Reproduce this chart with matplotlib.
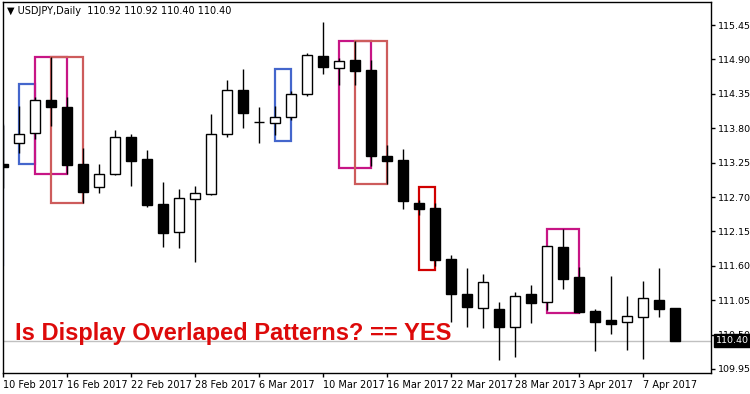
import matplotlib
matplotlib.use('Agg')
import matplotlib.pyplot as plt
from matplotlib.patches import Rectangle
import numpy as np

# USDJPY daily OHLC, 10 Feb 2017 .. 11 Apr 2017
opens = [113.23, 113.56, 113.72, 114.25, 114.14, 113.23, 112.86, 113.07, 113.66, 113.31,
         112.59, 112.14, 112.67, 112.75, 113.71, 114.41, 113.90, 113.88, 113.98, 114.35,
         114.95, 114.76, 114.89, 114.73, 113.36, 113.29, 112.60, 112.52, 111.71, 111.15,
         110.93, 110.91, 110.62, 111.15, 111.02, 111.90, 111.42, 110.88, 110.73, 110.70,
         110.78, 111.05, 110.92]
highs = [113.85, 114.16, 114.30, 114.94, 114.30, 113.48, 113.23, 113.77, 113.71, 113.45,
         112.94, 112.83, 112.88, 114.03, 114.57, 114.75, 114.14, 114.16, 114.40, 115.00,
         115.50, 114.92, 115.19, 114.89, 113.53, 113.47, 112.65, 112.60, 111.77, 111.57,
         111.47, 111.02, 111.18, 111.29, 111.92, 112.19, 111.58, 110.91, 111.44, 111.12,
         111.36, 111.57, 110.92]
lows = [112.84, 113.40, 113.62, 113.84, 113.07, 112.60, 112.76, 113.05, 112.88, 112.54,
        111.90, 111.89, 111.66, 112.74, 113.66, 113.80, 113.56, 113.69, 113.93, 114.31,
        114.67, 114.49, 114.49, 113.20, 112.91, 112.51, 112.41, 111.60, 110.70, 110.62,
        110.61, 110.09, 110.14, 110.69, 110.89, 111.23, 110.85, 110.24, 110.51, 110.25,
        110.11, 110.78, 110.40]
closes = [113.18, 113.71, 114.25, 114.14, 113.21, 112.78, 113.07, 113.66, 113.28, 112.57,
          112.12, 112.68, 112.76, 113.71, 114.41, 114.04, 113.90, 113.98, 114.35, 114.97,
          114.78, 114.87, 114.71, 113.36, 113.28, 112.64, 112.51, 111.69, 111.15, 110.94,
          111.34, 110.62, 111.12, 111.01, 111.92, 111.39, 110.86, 110.70, 110.67, 110.80,
          111.09, 110.91, 110.40]

date_labels = ['10 Feb 2017', '16 Feb 2017', '22 Feb 2017', '28 Feb 2017', '6 Mar 2017',
               '10 Mar 2017', '16 Mar 2017', '22 Mar 2017', '28 Mar 2017', '3 Apr 2017',
               '7 Apr 2017']
price_ticks = [109.95, 110.50, 111.05, 111.60, 112.15, 112.70, 113.25, 113.80, 114.35, 114.90, 115.45]

# 找到的形态（起止K线、上下沿、颜色）
pat_start = [-1, 1, 2, 3, 17, 21, 22, 26, 34]
pat_end = [0, 2, 4, 5, 18, 23, 24, 27, 36]
pat_top = [113.85, 114.51, 114.94, 114.94, 114.75, 115.19, 115.19, 112.86, 112.19]
pat_bottom = [111.61, 113.23, 113.07, 112.60, 113.60, 113.16, 112.91, 111.53, 110.85]
pat_color = ['#4466cc', '#4466cc', '#c71585', '#cd5c5c', '#4466cc', '#c71585', '#cd5c5c', '#d00000', '#c71585']

last_price = 110.40

fig = plt.figure(figsize=(7.5, 3.94), dpi=100)
ax = fig.add_axes([3/750, 21/394, 708/750, 371/394])

x = np.arange(len(opens))
o = np.array(opens)
c = np.array(closes)
ax.axhline(last_price, color='#c0c0c0', lw=1, zorder=0)

for s, e, t, b, col in zip(pat_start, pat_end, pat_top, pat_bottom, pat_color):
    ax.add_patch(Rectangle((s, b), e - s, t - b, fill=False, edgecolor=col, lw=1.6, zorder=1))

ax.vlines(x, lows, highs, color='black', lw=1, zorder=2)
body_col = ['white' if cc >= oo else 'black' for oo, cc in zip(o, c)]
ax.bar(x, np.abs(c - o), bottom=np.minimum(o, c), width=0.62, color=body_col,
       edgecolor='black', linewidth=1, zorder=3)

ax.set_xlim(0, 44.25)
ax.set_ylim(109.886, 115.818)

ax.yaxis.tick_right()
ax.set_yticks(price_ticks)
ax.set_yticklabels(['%.2f' % p for p in price_ticks])
ax.tick_params(axis='y', direction='out', length=3, pad=2, labelsize=6.8, width=1)
ax.set_xticks(np.arange(0, len(date_labels) * 4, 4))
ax.set_xticklabels(date_labels)
for lbl in ax.get_xticklabels():
    lbl.set_ha('left')
ax.tick_params(axis='x', direction='out', length=3, pad=2, labelsize=7, width=1)
for sp in ax.spines.values():
    sp.set_color('black')
    sp.set_linewidth(1)

ax.text(1.0071, last_price, '%.2f' % last_price, transform=ax.get_yaxis_transform(),
        ha='left', va='center', color='white', fontsize=6.8,
        bbox=dict(facecolor='black', edgecolor='black', pad=1.5), zorder=5, clip_on=False)

ax.text(0.75, 110.41, 'Is Display Overlaped Patterns? == YES', color='#dd0a0a',
        fontsize=17, fontweight='bold', family='Liberation Sans', va='baseline', zorder=4)

fig.text(7/750, 1 - 11/394, '\u25bc USDJPY,Daily  110.92 110.92 110.40 110.40',
         fontsize=7, va='center')

fig.savefig('out.png', dpi=100)
